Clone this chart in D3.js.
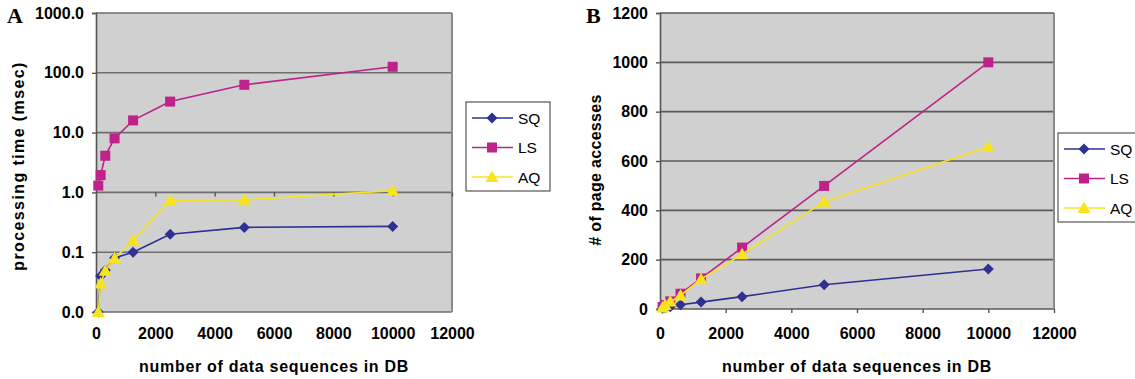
<!DOCTYPE html>
<html lang="en">
<head>
  <meta charset="UTF-8">
  <title>Processing time and page accesses</title>
  <script src="https://d3js.org/d3.v7.min.js"></script>
  <style>
    body { margin: 0; background: #fff; }
    text { font-family: "Liberation Sans", Arial, sans-serif; }
    .tick text { font-size: 16px; font-weight: bold; fill: #000; }
    .title { font-size: 16px; font-weight: bold; letter-spacing: 0.7px; }
    .panel { font-family: "Liberation Serif", "Times New Roman", serif; font-size: 22px; font-weight: bold; }
    .legend text { font-size: 15.5px; }
  </style>
</head>
<body>
  <svg id="chart" width="1135" height="379"></svg>
  <script>
    // number of data sequences in DB
    const sizes = [78, 156, 312, 625, 1250, 2500, 5000, 10000];

    // A: processing time (msec), log scale (0.01 is drawn as "0.0")
    const timeSQ = [0.01, 0.04, 0.05, 0.08, 0.1, 0.2, 0.26, 0.27];
    const timeLS = [1.3, 1.95, 4.1, 8.0, 16, 33, 63, 126];
    const timeAQ = [0.01, 0.03, 0.049, 0.079, 0.158, 0.74, 0.75, 1.07];

    // B: # of page accesses
    const pagesSQ = [3, 5, 9, 17, 28, 50, 98, 162];
    const pagesLS = [8, 16, 31, 62, 124, 249, 499, 1000];
    const pagesAQ = [6, 16, 30, 55, 121, 222, 435, 658];

    const seriesNames = ['SQ', 'LS', 'AQ'];
    const colors = { SQ: '#2e3192', LS: '#bf228a', AQ: '#f7e41e' };
    const xTicks = [0, 2000, 4000, 6000, 8000, 10000, 12000];
    const logTicks = [0.01, 0.1, 1, 10, 100, 1000];
    const linTicks = [0, 200, 400, 600, 800, 1000, 1200];

    const svg = d3.select('#chart');

    // marker symbols
    function marker(g, name, x, y) {
      if (name === 'SQ') {
        g.append('path').attr('d', `M${x},${y - 5.5}L${x + 5.5},${y}L${x},${y + 5.5}L${x - 5.5},${y}Z`)
          .attr('fill', colors.SQ);
      } else if (name === 'LS') {
        g.append('rect').attr('x', x - 5).attr('y', y - 5).attr('width', 10).attr('height', 10)
          .attr('fill', colors.LS);
      } else {
        g.append('path').attr('d', `M${x},${y - 6.5}L${x + 6.5},${y + 5}L${x - 6.5},${y + 5}Z`)
          .attr('fill', colors.AQ);
      }
    }

    function drawPanel(opt) {
      const g = svg.append('g');
      const x = d3.scaleLinear().domain([0, 12000]).range([opt.left, opt.right]);
      const y = opt.y;

      // plot background
      g.append('rect')
        .attr('x', opt.left).attr('y', opt.top)
        .attr('width', opt.right - opt.left).attr('height', opt.bottom - opt.top)
        .attr('fill', '#d0d0d0');

      // gridlines
      g.append('g').selectAll('line')
        .data(opt.yTicks)
        .enter()
        .append('line')
        .attr('x1', opt.left).attr('x2', opt.right)
        .attr('y1', (d) => y(d)).attr('y2', (d) => y(d))
        .attr('stroke', opt.gridColor).attr('stroke-width', 1.6);

      // right border
      g.append('line')
        .attr('x1', opt.right).attr('x2', opt.right)
        .attr('y1', opt.top).attr('y2', opt.bottom)
        .attr('stroke', '#8a8a8a').attr('stroke-width', 2);

      // y axis
      const yAxis = g.append('g')
        .attr('transform', `translate(${opt.left},0)`)
        .call(d3.axisLeft(y).tickValues(opt.yTicks).tickFormat(opt.yFormat).tickSize(4).tickPadding(8));
      yAxis.select('.domain').attr('stroke', '#555').attr('stroke-width', 1.6);
      yAxis.selectAll('.tick line').attr('stroke', '#555').attr('stroke-width', 1.4);

      // x axis ticks (at the axis crossing)
      const xAxisTicks = g.append('g')
        .attr('transform', `translate(0,${opt.crossY})`)
        .call(d3.axisBottom(x).tickValues(xTicks.slice(1)).tickFormat('').tickSize(4).tickSizeOuter(0));
      xAxisTicks.select('.domain').remove();
      xAxisTicks.selectAll('.tick line').attr('stroke', '#555').attr('stroke-width', 1.4);

      // x axis labels at the bottom
      const xAxisLabels = g.append('g')
        .attr('transform', `translate(0,${opt.bottom})`)
        .call(d3.axisBottom(x).tickValues(xTicks).tickFormat(d3.format('d')).tickSize(0));
      xAxisLabels.select('.domain').remove();
      xAxisLabels.selectAll('.tick text').attr('y', opt.labelY - opt.bottom).attr('dy', 0);

      // series
      opt.series.forEach((values, i) => {
        const name = seriesNames[i];
        const pts = sizes.map((s, j) => [x(s), y(values[j])]);
        g.append('path')
          .attr('d', d3.line()(pts))
          .attr('fill', 'none')
          .attr('stroke', colors[name])
          .attr('stroke-width', 1.6);
        const mg = g.append('g');
        pts.forEach((p) => marker(mg, name, p[0], p[1]));
      });

      // axis titles
      g.append('text')
        .attr('class', 'title')
        .attr('text-anchor', 'middle')
        .attr('x', (opt.left + opt.right) / 2)
        .attr('y', 372)
        .text('number of data sequences in DB');

      g.append('text')
        .attr('class', 'title')
        .attr('text-anchor', 'middle')
        .attr('transform', `translate(${opt.yTitleX},${opt.yTitleY}) rotate(-90)`)
        .style('letter-spacing', opt.yTitleSpacing)
        .text(opt.yTitle);

      g.append('text')
        .attr('class', 'panel')
        .attr('x', opt.panelX).attr('y', 23)
        .text(opt.panel);

      // legend
      const lg = g.append('g').attr('class', 'legend');
      lg.append('rect')
        .attr('x', opt.legX).attr('y', opt.legY)
        .attr('width', 84).attr('height', 89)
        .attr('fill', '#fff').attr('stroke', '#555').attr('stroke-width', 1.2);
      seriesNames.forEach((name, i) => {
        const cy = opt.legY + 16 + i * 29.5;
        lg.append('line')
          .attr('x1', opt.legX + 6).attr('x2', opt.legX + 47)
          .attr('y1', cy).attr('y2', cy)
          .attr('stroke', colors[name]).attr('stroke-width', 1.6);
        marker(lg, name, opt.legX + 26, cy);
        lg.append('text')
          .attr('x', opt.legX + 52).attr('y', cy + 5.5)
          .text(name);
      });
    }

    const yA = d3.scaleLog().domain([0.01, 1000]).range([312, 13]);
    drawPanel({
      left: 96, right: 452, top: 13, bottom: 312,
      y: yA, yTicks: logTicks, yFormat: d3.format('.1f'),
      crossY: yA(1), labelY: 339, gridColor: '#6e6e6e',
      series: [timeSQ, timeLS, timeAQ],
      yTitle: 'processing time (msec)', yTitleX: 24, yTitleY: 166, yTitleSpacing: '1.4px',
      panel: 'A', panelX: 7,
      legX: 466, legY: 102
    });

    const yB = d3.scaleLinear().domain([0, 1200]).range([309, 13]);
    drawPanel({
      left: 660, right: 1054, top: 13, bottom: 309,
      y: yB, yTicks: linTicks, yFormat: d3.format('d'),
      crossY: 309, labelY: 339, gridColor: '#5a5a5a',
      series: [pagesSQ, pagesLS, pagesAQ],
      yTitle: '# of page accesses', yTitleX: 601, yTitleY: 170, yTitleSpacing: '0.3px',
      panel: 'B', panelX: 586,
      legX: 1058, legY: 133
    });
  </script>
</body>
</html>
